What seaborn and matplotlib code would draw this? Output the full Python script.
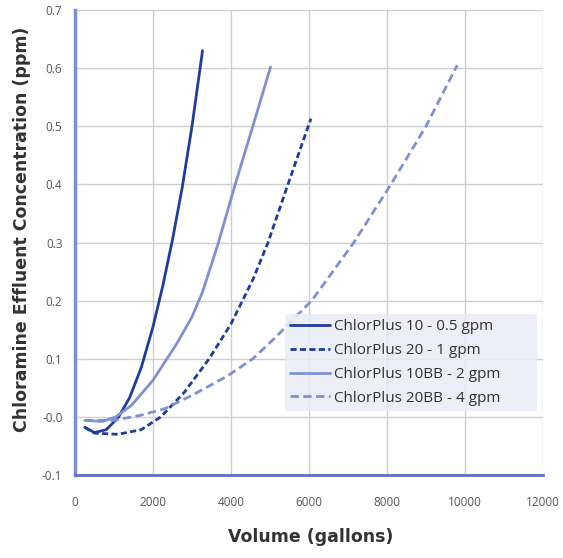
import numpy as np
import pandas as pd
import matplotlib
matplotlib.use("Agg")
import matplotlib.pyplot as plt
import seaborn as sns

# values
vol_10 = [250, 500, 800, 1100, 1400, 1700, 2000, 2250, 2500, 2750, 3000, 3270]
conc_10 = [-0.018, -0.027, -0.022, -0.002, 0.033, 0.085, 0.155, 0.225, 0.305, 0.395, 0.50, 0.63]

vol_20 = [250, 500, 1100, 1700, 2200, 2800, 3440, 4000, 4560, 4950, 5460, 5980, 6050]
conc_20 = [-0.018, -0.028, -0.030, -0.022, 0.0, 0.042, 0.10, 0.16, 0.236, 0.30, 0.40, 0.50, 0.513]

vol_10bb = [250, 700, 1050, 1450, 2000, 2600, 3000, 3270, 3656, 4086, 4559, 5015]
conc_10bb = [-0.006, -0.008, 0.0, 0.02, 0.063, 0.125, 0.172, 0.215, 0.295, 0.395, 0.50, 0.602]

vol_20bb = [250, 1000, 1700, 2300, 3000, 3900, 4560, 5160, 6070, 7150, 8100, 9000, 9800]
conc_20bb = [-0.006, -0.006, 0.003, 0.014, 0.037, 0.07, 0.10, 0.138, 0.20, 0.30, 0.40, 0.50, 0.605]

labels = ["ChlorPlus 10 - 0.5 gpm", "ChlorPlus 20 - 1 gpm",
          "ChlorPlus 10BB - 2 gpm", "ChlorPlus 20BB - 4 gpm"]

x_ticks = [0, 2000, 4000, 6000, 8000, 10000, 12000]
y_ticks = [-0.1, 0.0, 0.1, 0.2, 0.3, 0.4, 0.5, 0.6, 0.7]
y_tick_labels = ["-0.1", "-0.0", "0.1", "0.2", "0.3", "0.4", "0.5", "0.6", "0.7"]

dark = "#1f3d9c"
light = "#8091d2"

sns.set_style("whitegrid")
plt.rcParams["font.family"] = ["Open Sans", "DejaVu Sans"]

fig = plt.figure(figsize=(5.63, 5.58), dpi=100)
ax = fig.add_axes([75 / 563, 1 - 475 / 558, 468 / 563, 465 / 558])

sns.lineplot(x=vol_10, y=conc_10, ax=ax, color=dark, lw=2.0, sort=False,
             estimator=None, label=labels[0])
sns.lineplot(x=vol_20, y=conc_20, ax=ax, color=dark, lw=2.0, sort=False,
             estimator=None, label=labels[1], linestyle=(0, (2.2, 1.2)))
sns.lineplot(x=vol_10bb, y=conc_10bb, ax=ax, color=light, lw=2.0, sort=False,
             estimator=None, label=labels[2])
sns.lineplot(x=vol_20bb, y=conc_20bb, ax=ax, color=light, lw=2.0, sort=False,
             estimator=None, label=labels[3], linestyle=(0, (3.0, 1.6)))

ax.set_xlim(0, 12000)
ax.set_ylim(-0.1, 0.7)
ax.set_xticks(x_ticks)
ax.set_yticks(y_ticks)
ax.set_yticklabels(y_tick_labels)
ax.tick_params(axis="both", labelsize=8.5, colors="#555555", length=0)
ax.tick_params(axis="x", pad=15)
ax.tick_params(axis="y", pad=9)
ax.grid(True, color="#cfcfcf", lw=1.0)

for side in ["top", "right"]:
    ax.spines[side].set_visible(False)
ax.spines["left"].set_color("#7e90d2")
ax.spines["left"].set_linewidth(2.5)
ax.spines["bottom"].set_color("#5b70c4")
ax.spines["bottom"].set_linewidth(2.0)

ax.set_xlabel("")
ax.set_ylabel("")
fig.text(311 / 563, 1 - 537 / 558, "Volume (gallons)", ha="center", va="center",
         fontsize=12.5, fontweight="bold", family="DejaVu Sans", color="#333333")
fig.text(22 / 563, 1 - 229 / 558, "Chloramine Effluent Concentration (ppm)",
         ha="center", va="center", rotation=90, fontsize=12.5, fontweight="bold",
         family="DejaVu Sans", color="#333333")

leg = ax.legend(loc="lower left", bbox_to_anchor=(0.449, 0.138, 0.538, 0.21),
                mode="expand", borderaxespad=0,
                fontsize=11, handlelength=2.6, handletextpad=0.3, labelspacing=0.585,
                frameon=True, fancybox=False, borderpad=0.33)
leg.get_frame().set_facecolor("#e9ecf7")
leg.get_frame().set_edgecolor("none")
leg.get_frame().set_alpha(0.85)
for t in leg.get_texts():
    t.set_color("#333333")

fig.savefig("out.png", dpi=100)
